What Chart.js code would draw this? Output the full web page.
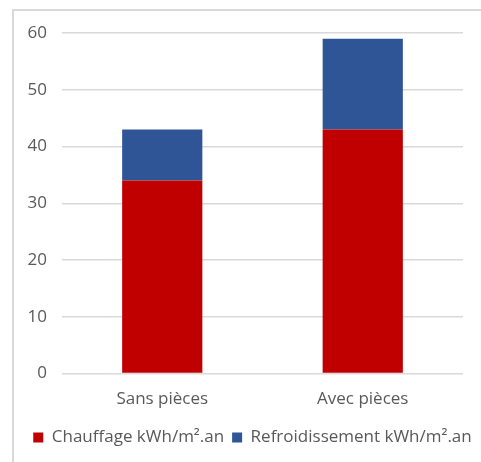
<!DOCTYPE html>
<html>
<head>
<meta charset="utf-8">
<script src="https://cdn.jsdelivr.net/npm/chart.js@4.4.0/dist/chart.umd.min.js"></script>
<style>
  html, body { margin: 0; padding: 0; background: #fff; overflow: hidden; }
  #wrap { position: relative; width: 481px; height: 462px; }
  #frame { position: absolute; left: 12px; top: 9px; width: 520px; height: 520px; border: 2px solid #d9d9d9; box-sizing: border-box; }
  canvas { position: absolute; left: 0; top: 0; }
</style>
</head>
<body>
<div id="wrap">
  <div id="frame"></div>
  <canvas id="chart" width="481" height="462"></canvas>
</div>
<script>
// Data
const categories = ['Sans pièces', 'Avec pièces'];
const chauffage = [34, 43];
const refroidissement = [9, 16];
const seriesNames = ['Chauffage kWh/m².an', 'Refroidissement kWh/m².an'];

const FONT = "'Open Sans', 'Liberation Sans', sans-serif";
const TEXT = '#595959';

new Chart(document.getElementById('chart'), {
  type: 'bar',
  data: {
    labels: categories,
    datasets: [
      { label: seriesNames[0], data: chauffage, backgroundColor: '#C00000' },
      { label: seriesNames[1], data: refroidissement, backgroundColor: '#2F5597' }
    ]
  },
  options: {
    responsive: false,
    animation: false,
    layout: { padding: { left: 24, right: 0, top: 33, bottom: 6 } },
    datasets: { bar: { barPercentage: 0.4, categoryPercentage: 1.0 } },
    plugins: {
      tooltip: { enabled: false },
      legend: {
        position: 'bottom',
        labels: {
          boxWidth: 10,
          boxHeight: 10,
          padding: 8,
          color: TEXT,
          font: { family: FONT, size: 17 }
        }
      }
    },
    scales: {
      x: {
        stacked: true,
        afterFit: s => { s.height += 5; },
        grid: { display: false },
        border: { display: false },
        ticks: { color: TEXT, font: { family: FONT, size: 17 }, padding: 7 }
      },
      y: {
        stacked: true,
        min: 0,
        max: 60,
        afterFit: s => { s.width = 38; },
        grid: { color: '#d9d9d9', lineWidth: 1.5, drawTicks: false },
        border: { display: false },
        ticks: { stepSize: 10, color: TEXT, font: { family: FONT, size: 17 }, padding: 15 }
      },
      // empty right gutter so the plot stops short of the edge
      gutter: {
        type: 'linear',
        position: 'right',
        afterFit: s => { s.width = 18; },
        grid: { display: false },
        border: { display: false },
        ticks: { display: false }
      }
    }
  }
});
</script>
</body>
</html>
